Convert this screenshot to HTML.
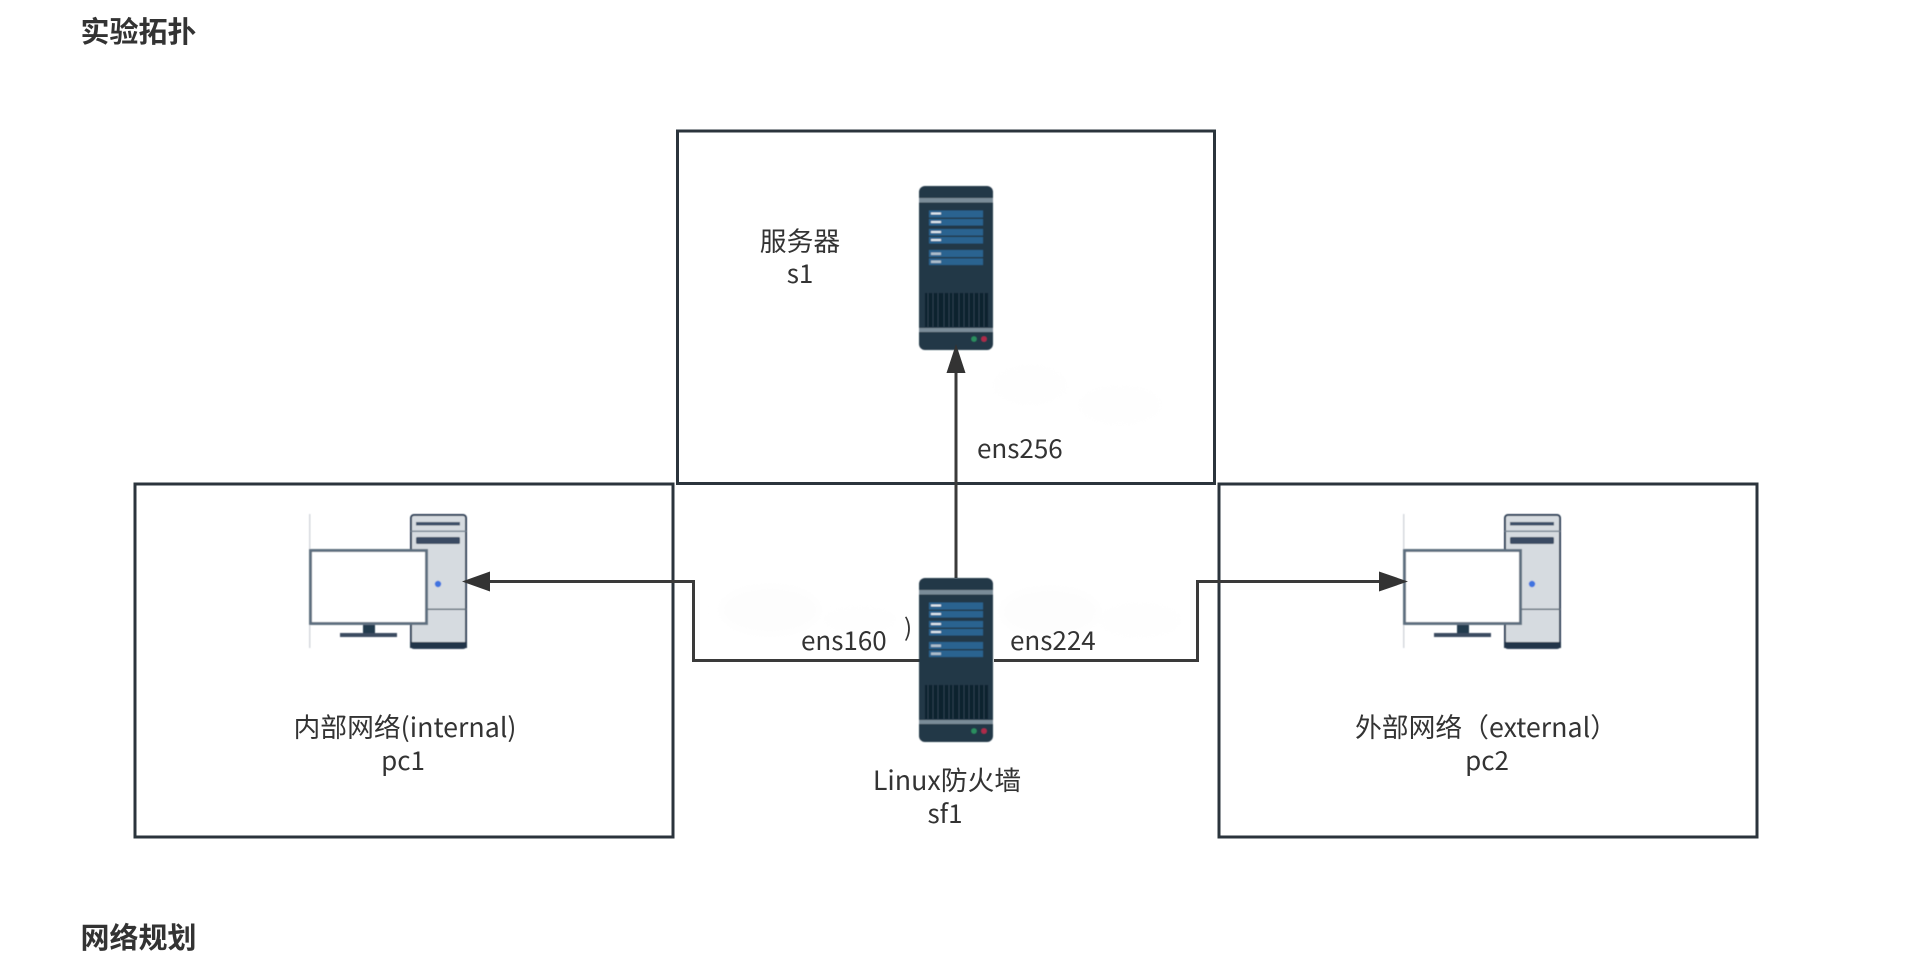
<!DOCTYPE html>
<html><head><meta charset="utf-8"><style>
html,body{margin:0;padding:0;background:#fff}
svg{display:block}
text{font-family:"Noto Sans CJK SC","Liberation Sans",sans-serif;fill:#333;font-size:26px}
.l{font-size:26.8px}
.h{font-size:29px;font-weight:700;fill:#333}
.c{text-anchor:middle}
</style></head><body>
<svg width="1924" height="956" viewBox="0 0 1924 956" xmlns="http://www.w3.org/2000/svg">
<defs>
<filter id="b" x="-5%" y="-5%" width="110%" height="110%"><feGaussianBlur stdDeviation="0.5"/></filter>
<filter id="s" x="-20%" y="-20%" width="140%" height="140%"><feGaussianBlur stdDeviation="5"/></filter>
<g id="srv" filter="url(#b)">
<rect width="74" height="164" rx="6" fill="#223747"/>
<rect y="12" width="74" height="4.5" fill="#7a8c98"/>
<g fill="#2a6490">
<rect x="10" y="24.5" width="54" height="7"/><rect x="10" y="33" width="54" height="6.5"/>
<rect x="10" y="43" width="54" height="6.5"/><rect x="10" y="51" width="54" height="6.5"/>
<rect x="10" y="64" width="54" height="7"/><rect x="10" y="72.5" width="54" height="6.5"/>
</g>
<g fill="#dfe8ee">
<rect x="12" y="26.5" width="10" height="2"/><rect x="12" y="35" width="10" height="2"/>
<rect x="12" y="45" width="10" height="2"/><rect x="12" y="53" width="10" height="2"/>
</g>
<g fill="#aebfcc"><rect x="12" y="66.5" width="10" height="2.5"/><rect x="12" y="74.5" width="10" height="2.5"/></g>
<rect x="6" y="107" width="63" height="34" fill="#10202f"/>
<g stroke="#2a4050" stroke-width="1">
<path d="M9 107v34M14 107v34M19 107v34M25 107v34M30 107v34M34 107v34M40 107v34M45 107v34M50 107v34M55 107v34M60 107v34M65 107v34"/>
</g>
<rect y="142" width="74" height="4" fill="#7a8c98"/>
<circle cx="55" cy="153" r="2.8" fill="#2a8f5f"/>
<circle cx="65" cy="153" r="2.8" fill="#b02a4a"/>
</g>
<g id="pc" filter="url(#b)">
<rect x="0" y="0" width="1.5" height="134" fill="#d5d9de"/>
<rect x="102" y="1" width="55" height="133" rx="3" fill="#d6dbe0" stroke="#2e4057" stroke-width="2"/>
<rect x="101" y="128" width="57" height="6" fill="#223548"/>
<rect x="107" y="8" width="44" height="3.5" fill="#3e5068"/>
<rect x="102" y="16.5" width="55" height="1.5" fill="#7c8896"/>
<rect x="107" y="23" width="44" height="7" rx="1.5" fill="#3a4c64"/>
<rect x="102" y="94.5" width="55" height="1.5" fill="#66737f"/>
<circle cx="129" cy="70" r="3.2" fill="#3f73e0"/>
<rect x="1.5" y="36.5" width="116" height="73" fill="#fff" stroke="#5f6f80" stroke-width="3"/>
<rect x="54" y="111" width="12" height="9" fill="#223a4e"/>
<rect x="31" y="119" width="57" height="4" fill="#3a4c60"/>
</g>
</defs>

<rect width="1924" height="956" fill="#fff"/>

<ellipse cx="1030" cy="385" rx="40" ry="22" fill="#fefefe" filter="url(#s)"/>
<ellipse cx="1120" cy="405" rx="45" ry="22" fill="#fefefe" filter="url(#s)"/>
<ellipse cx="770" cy="610" rx="50" ry="24" fill="#fdfdfd" filter="url(#s)"/>
<ellipse cx="860" cy="620" rx="40" ry="16" fill="#fefefe" filter="url(#s)"/>
<ellipse cx="1050" cy="612" rx="50" ry="24" fill="#fdfdfd" filter="url(#s)"/>
<ellipse cx="1140" cy="620" rx="45" ry="20" fill="#fefefe" filter="url(#s)"/>

<g fill="none" stroke="#2b343c" stroke-width="3">
<rect x="677.500" y="131" width="537" height="352.500"/>
<rect x="135" y="484" width="538" height="353"/>
<rect x="1219" y="484" width="538" height="353"/>
</g>

<use href="#pc" x="309" y="514"/>
<use href="#pc" x="1403" y="514"/>
<use href="#srv" x="919" y="186"/>

<g fill="none" stroke="#3a3a3a" stroke-width="3">
<path d="M956 578V370"/>
<path d="M920 660.500H693.500V581.500H488"/>
<path d="M994 660.500H1197.500V581.500H1381"/>
</g>
<g fill="#333">
<polygon points="956,344 946.500,373 965.500,373"/>
<polygon points="462,581.500 490,571.500 490,591.500"/>
<polygon points="1408,581.500 1379,571.500 1379,591.500"/>
</g>

<use href="#srv" x="919" y="578"/>

<text class="h" x="80.500" y="42">实验拓扑</text>
<text class="h" x="80.500" y="948">网络规划</text>

<text class="c l" x="800" y="251">服务器</text>
<text class="c" x="800" y="283">s1</text>
<text x="977" y="458">ens256</text>
<text x="801" y="650">ens160</text>
<text x="1010" y="650">ens224</text>
<text x="904" y="636" fill="#555" style="font-size:24px">)</text>
<text class="c l" x="405" y="737">内部网络(internal)</text>
<text class="c" x="403" y="770">pc1</text>
<text class="c l" x="1486" y="737">外部网络（external）</text>
<text class="c" x="1487" y="770">pc2</text>
<text class="c l" x="947" y="790">Linux防火墙</text>
<text class="c" x="945" y="823">sf1</text>
</svg>
</body></html>
